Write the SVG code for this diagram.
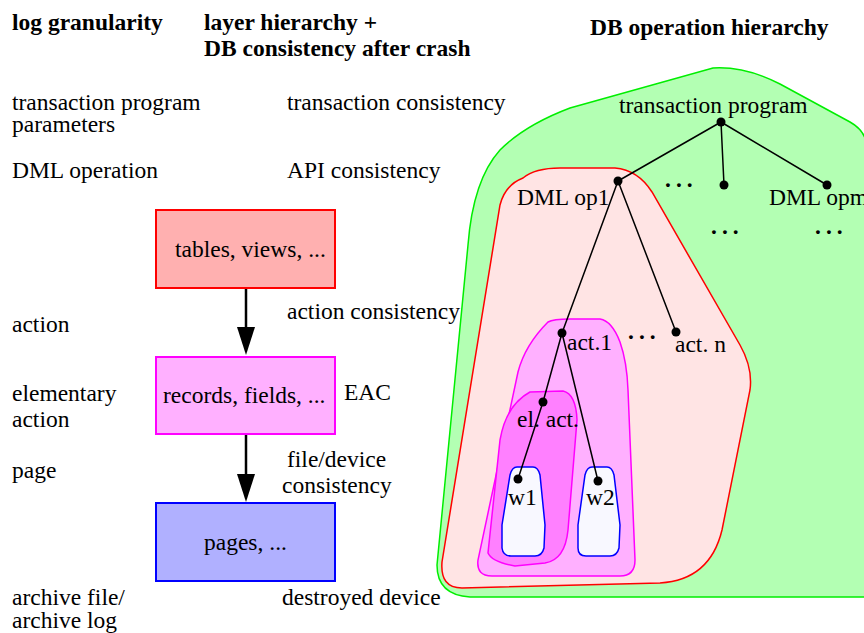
<svg xmlns="http://www.w3.org/2000/svg" width="864" height="633" viewBox="0 0 864 633">
<style>
text{font-family:"Liberation Serif",serif;font-size:23.5px;fill:#000}
.h{font-weight:bold;font-size:23.5px}
.edge{stroke:#000;stroke-width:1.5;fill:none}
.dot{fill:#000}
.arrow{stroke:#000;stroke-width:2.5;fill:none}
.dots{font-weight:bold;letter-spacing:5px}
</style>
<rect width="864" height="633" fill="#fff"/>
<g font-family="Liberation Serif, serif">
<g id="headings">
<text class="h" x="12" y="30">log granularity</text>
<text class="h" x="204" y="30">layer hierarchy +</text>
<text class="h" x="204" y="56">DB consistency after crash</text>
<text class="h" x="590" y="35">DB operation hierarchy</text>
</g>
<g id="left-labels">
<text x="12" y="110">transaction program</text>
<text x="12" y="132">parameters</text>
<text x="12" y="178">DML operation</text>
<text x="12" y="332">action</text>
<text x="12" y="401">elementary</text>
<text x="12" y="427">action</text>
<text x="12" y="478">page</text>
<text x="12" y="605">archive file/</text>
<text x="12" y="628">archive log</text>
</g>
<g id="mid-labels">
<text x="287" y="110">transaction consistency</text>
<text x="287" y="178">API consistency</text>
<text x="287" y="319">action consistency</text>
<text x="344" y="400">EAC</text>
<text x="287" y="467">file/device</text>
<text x="282" y="493">consistency</text>
<text x="282" y="605">destroyed device</text>
</g>
<g id="box-tables">
<rect x="156" y="210" width="179" height="78" fill="#ffb0b0" stroke="#ff0000" stroke-width="2"/>
<text x="175" y="257">tables, views, ...</text>
</g>
<g id="box-records">
<rect x="156" y="357" width="179" height="77" fill="#ffb0ff" stroke="#ff00ff" stroke-width="2"/>
<text x="163" y="403">records, fields, ...</text>
</g>
<g id="box-pages">
<rect x="156" y="503" width="179" height="78" fill="#b0b0ff" stroke="#0000ff" stroke-width="2"/>
<text x="204" y="550">pages, ...</text>
</g>
<g id="connectors">
<path class="arrow" d="M246,289 L246,340"/>
<path d="M237,327 L255,327 L246,355 Z" fill="#000"/>
<path class="arrow" d="M246,435 L246,485"/>
<path d="M237,474 L255,474 L246,502 Z" fill="#000"/>
</g>
<g id="regions">
<path id="region-transaction" d="M713,68 Q745,66 780,84 L850,122 Q864,130 866,142 L866,597 L470,597 Q437,595 437,565 L468,245 Q473,180 500,150 Q525,125 570,108 Z" fill="#b3ffb3" stroke="#00ee00" stroke-width="1.5"/>
<path id="region-dml" d="M523,178 Q535,168 560,168 L615,168 Q638,170 652,192 L740,345 Q753,368 750,390 L722,530 Q710,580 660,583 L462,588 Q440,588 442,562 L500,205 Q505,185 523,178 Z" fill="#ffe4e4" stroke="#ff0000" stroke-width="1.5"/>
<path id="region-action" d="M548,322 Q553,319 570,319 L600,319 Q612,321 620,342 Q627,362 628,390 L635,560 Q635,576 620,576 L492,576 Q476,576 478,560 L518,372 Q525,345 548,322 Z" fill="#ffb0ff" stroke="#ff00ff" stroke-width="1.5"/>
<path id="region-elact" d="M530,392 L563,391 Q576,394 577,420 L568,530 Q565,560 545,563 L515,566 Q492,562 488,553 L500,440 Q506,405 530,392 Z" fill="#ff80ff" stroke="#ff00ff" stroke-width="1.5"/>
<path id="region-w1" d="M517,467 L533,467 Q538,467 540,475 L545,525 L544,548 Q542,556 535,556 L511,556 Q503,556 502,548 L502,525 L510,475 Q512,467 517,467 Z" fill="#f8f8ff" stroke="#0000ff" stroke-width="1.5"/>
<path id="region-w2" d="M592,467 L607,467 Q612,467 614,475 L620,525 L619,548 Q617,556 610,556 L586,556 Q578,556 578,548 L578,525 L585,475 Q587,467 592,467 Z" fill="#f8f8ff" stroke="#0000ff" stroke-width="1.5"/>
</g>
<g id="tree-edges">
<path class="edge" d="M721,122 L618,181 M721,122 L724,185 M721,122 L827,185 M618,181 L562,333 M618,181 L676,332 M562,333 L543,402 M543,402 L518,479 M562,333 L598,481"/>
</g>
<g id="node-tp"><circle class="dot" cx="721" cy="122" r="4.5"/><text x="619" y="113">transaction program</text></g>
<g id="node-op1"><circle class="dot" cx="618" cy="181" r="4.5"/><text x="517" y="205">DML op1</text></g>
<g id="node-mid"><circle class="dot" cx="724" cy="185" r="4.5"/></g>
<g id="node-opm"><circle class="dot" cx="827" cy="185" r="4.5"/><text x="769" y="205">DML opm</text></g>
<g id="node-act1"><circle class="dot" cx="562" cy="333" r="4.5"/><text x="567" y="350">act.1</text></g>
<g id="node-actn"><circle class="dot" cx="676" cy="332" r="4.5"/><text x="675" y="352">act. n</text></g>
<g id="node-elact"><circle class="dot" cx="543" cy="402" r="4.5"/><text x="517" y="427">el. act.</text></g>
<g id="node-w1"><circle class="dot" cx="518" cy="479" r="4.5"/><text x="508" y="505">w1</text></g>
<g id="node-w2"><circle class="dot" cx="598" cy="481" r="4.5"/><text x="586" y="505">w2</text></g>
<g id="ellipses">
<text class="dots" x="665" y="187">...</text>
<text class="dots" x="711" y="234">...</text>
<text class="dots" x="815" y="234">...</text>
<text class="dots" x="628" y="339">...</text>
</g>
</g>
</svg>
